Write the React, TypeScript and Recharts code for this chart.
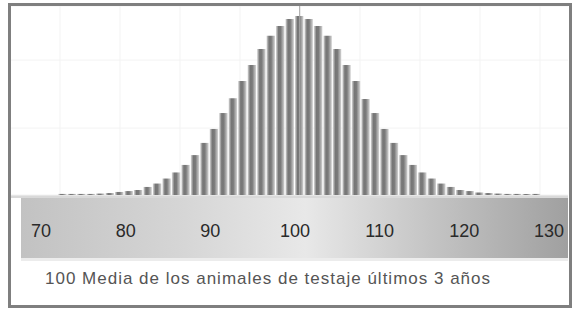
import { Bar, BarChart, CartesianGrid, ReferenceLine, XAxis, YAxis } from 'recharts'

// bar centres on the score scale
const SCORES = [
  72.59, 73.7, 74.82, 75.94, 77.06, 78.18, 79.3, 80.42, 81.53, 82.65, 83.77, 84.89, 86.01, 87.13, 88.25, 89.36, 90.48,
  91.6, 92.72, 93.84, 94.96, 96.08, 97.19, 98.31, 99.43, 100.55, 101.67, 102.79, 103.91, 105.02, 106.14, 107.26,
  108.38, 109.5, 110.62, 111.74, 112.85, 113.97, 115.09, 116.21, 117.33, 118.45, 119.57, 120.68, 121.8, 122.92,
  124.04, 125.16, 126.28, 127.4, 128.51,
]

// relative frequency, % of the peak
const FREQ = [
  0.6, 0.6, 0.6, 0.6, 0.8, 1.1, 1.7, 2.2, 2.8, 4.5, 6.4, 9.2, 12.6, 16.8, 22.3, 29.1, 36.9, 45.8, 54, 63.7, 72.6, 81.6, 89, 94.4, 98.3,
  100,
  98.3, 94.4, 89, 81.6, 72.6, 63.7, 53.6, 45.8, 36.9, 29.1, 22.3, 16.8, 12.6, 9.2, 6.4, 4.5, 2.8, 2.2, 1.4, 1.1, 0.8, 0.6, 0.6, 0.6, 0.6,
]

const SCORE_TICKS = [70, 80, 90, 100, 110, 120, 130]
const MEAN = 100.55
const CAPTION = '100 Media de los animales de testaje últimos 3 años'

const data = SCORES.map((score, i) => ({ score, freq: FREQ[i] }))

const abs = (left: number, top: number, width: number, height: number) => ({
  position: 'absolute' as const,
  left,
  top,
  width,
  height,
})

export default function App() {
  return (
    <div style={{ ...abs(0, 0, 574, 310), background: '#fff', fontFamily: '"Liberation Sans", Arial, sans-serif' }}>
      <div style={{ ...abs(8, 3, 564, 305), border: '3px solid #7f7f7f', boxSizing: 'border-box' }} />
      <div style={{ ...abs(11, 195, 557, 3), background: '#d9d9d9' }} />
      <div
        style={{
          ...abs(21, 198, 547, 60),
          background: 'linear-gradient(to right, #c2c2c2 0%, #d6d6d6 30%, #e8e8e8 52%, #c4c4c4 75%, #a0a0a0 100%)',
        }}
      />
      <div style={{ ...abs(21, 258, 547, 3), background: '#ececec' }} />
      <div style={abs(11, 6, 557, 299)}>
        <BarChart
          width={557}
          height={299}
          data={data}
          margin={{ top: 0, right: 0, bottom: 45, left: 0 }}
          barCategoryGap={0}
          barGap={0}
        >
          <defs>
            <linearGradient id="barGrad" x1="0" y1="0" x2="1" y2="0">
              <stop offset="0%" stopColor="#dadada" />
              <stop offset="30%" stopColor="#767676" />
              <stop offset="55%" stopColor="#7a7a7a" />
              <stop offset="78%" stopColor="#a8a8a8" />
              <stop offset="100%" stopColor="#d6d6d6" />
            </linearGradient>
          </defs>
          <CartesianGrid
            stroke="#f3f3f3"
            verticalCoordinatesGenerator={({ offset }: any) =>
              Array.from({ length: 9 }, (_, i) => offset.left + 49 + i * 60)
            }
          />
          <XAxis
            dataKey="score"
            type="number"
            domain={[66.46, 132.24]}
            ticks={SCORE_TICKS}
            interval={0}
            allowDataOverflow
            height={65}
            axisLine={false}
            tickLine={false}
            tickSize={0}
            tickMargin={29}
            tick={{ fill: '#2a2a2a', fontSize: 18 }}
          />
          <YAxis type="number" domain={[0, 105.6]} ticks={[0, 37.4, 75.4]} allowDataOverflow hide />
          <Bar dataKey="freq" barSize={9.5} fill="url(#barGrad)" isAnimationActive={false} />
          <ReferenceLine x={MEAN} stroke="#a8a8a8" strokeWidth={1} />
        </BarChart>
      </div>
      <div
        style={{
          position: 'absolute',
          left: 45,
          top: 270,
          fontSize: 17,
          letterSpacing: 1,
          lineHeight: '18px',
          color: '#555',
          whiteSpace: 'nowrap',
        }}
      >
        {CAPTION}
      </div>
    </div>
  )
}
